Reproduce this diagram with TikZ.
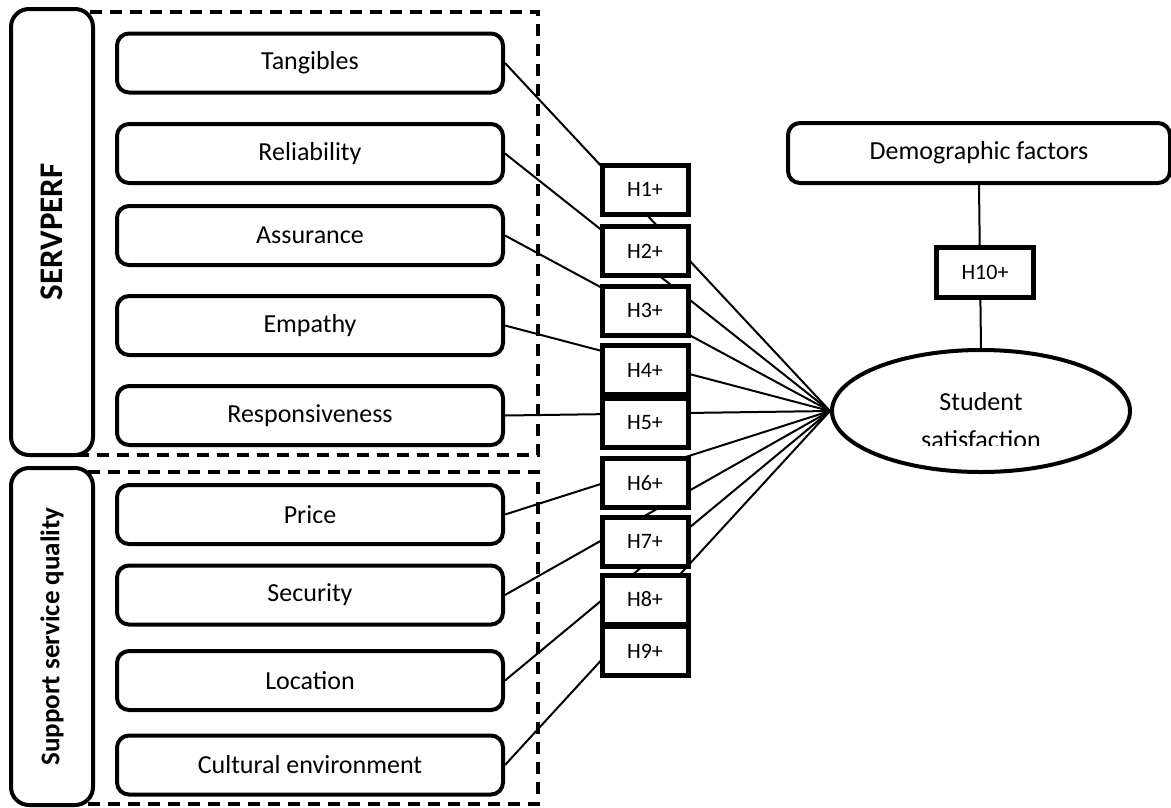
\documentclass[tikz,border=0pt]{standalone}
\usepackage{fontspec}
\setmainfont{Carlito}
\usetikzlibrary{shapes.geometric}
\begin{document}
\begin{tikzpicture}[x=1pt,y=-1pt,
  fbox/.style={draw,line width=4pt,rounded corners=12pt,fill=white,minimum width=386pt,minimum height=59pt,inner sep=0pt,font=\fontsize{26}{31}\selectfont},
  hbox/.style={draw,line width=5pt,fill=white,minimum width=86pt,minimum height=49pt,inner sep=0pt,font=\fontsize{22}{26}\selectfont},
  catbox/.style={draw,line width=4pt,rounded corners=18pt,fill=white,minimum height=82pt,inner sep=0pt,rotate=90},
  grp/.style={draw,line width=3.5pt,dash pattern=on 12pt off 8pt},
  link/.style={line width=2pt},
  lbl/.style={inner sep=0pt,font=\fontsize{26}{31}\selectfont}]
\useasboundingbox (0,0) rectangle (1171,807);
% group frames
\draw[grp] (60,12) rectangle (538,455);
\draw[grp] (60,472) rectangle (538,804);
% category boxes
\node[catbox,minimum width=446pt,font=\bfseries\fontsize{33}{38}\selectfont] (serv) at (52,232) {SERVPERF};
\node[catbox,minimum width=337pt,font=\bfseries\fontsize{27}{32}\selectfont] (supp) at (52,636.5) {Support service quality};
% factor boxes
\node[fbox] (t)  at (310,63)    {Tangibles};
\node[fbox] (r)  at (310,153.5) {Reliability};
\node[fbox] (a)  at (310,235.5) {Assurance};
\node[fbox] (e)  at (310,325.5) {Empathy};
\node[fbox] (re) at (310,415.5) {Responsiveness};
\node[fbox] (p)  at (310,514.5) {Price};
\node[fbox] (s)  at (310,595)   {Security};
\node[fbox] (l)  at (310,680.5) {Location};
\node[fbox] (c)  at (310,765)   {Cultural environment};
% right side
\node[fbox,minimum width=382pt,minimum height=60pt] (demo) at (979,153) {Demographic factors};
\node[ellipse,draw,line width=4pt,minimum width=298pt,minimum height=122pt,inner sep=0pt] (ss) at (981,411) {};
\begin{scope}
  \clip (880,370) rectangle (1080,445);
  \node[lbl,anchor=base] (st1) at (981,410) {Student};
  \node[lbl,anchor=base] (st2) at (981,448) {satisfaction};
\end{scope}
% connectors
\foreach \n in {t,r,a,e,re,p,s,l,c} \draw[link] (\n.east) -- (ss.west);
\draw[link] (demo.south) -- (ss.north);
% hypothesis boxes
\node[hbox] (h1) at (645,189.5) {H1+};
\node[hbox] (h2) at (645,251)   {H2+};
\node[hbox] (h3) at (645,310.5) {H3+};
\node[hbox] (h4) at (645,370)   {H4+};
\node[hbox] (h5) at (645,423)   {H5+};
\node[hbox] (h6) at (645,483)   {H6+};
\node[hbox] (h7) at (645,541.5) {H7+};
\node[hbox] (h8) at (645,599.5) {H8+};
\node[hbox] (h9) at (645,651)   {H9+};
\node[hbox,minimum width=97pt,minimum height=50pt] (h10) at (985,272) {H10+};
\end{tikzpicture}
\end{document}
